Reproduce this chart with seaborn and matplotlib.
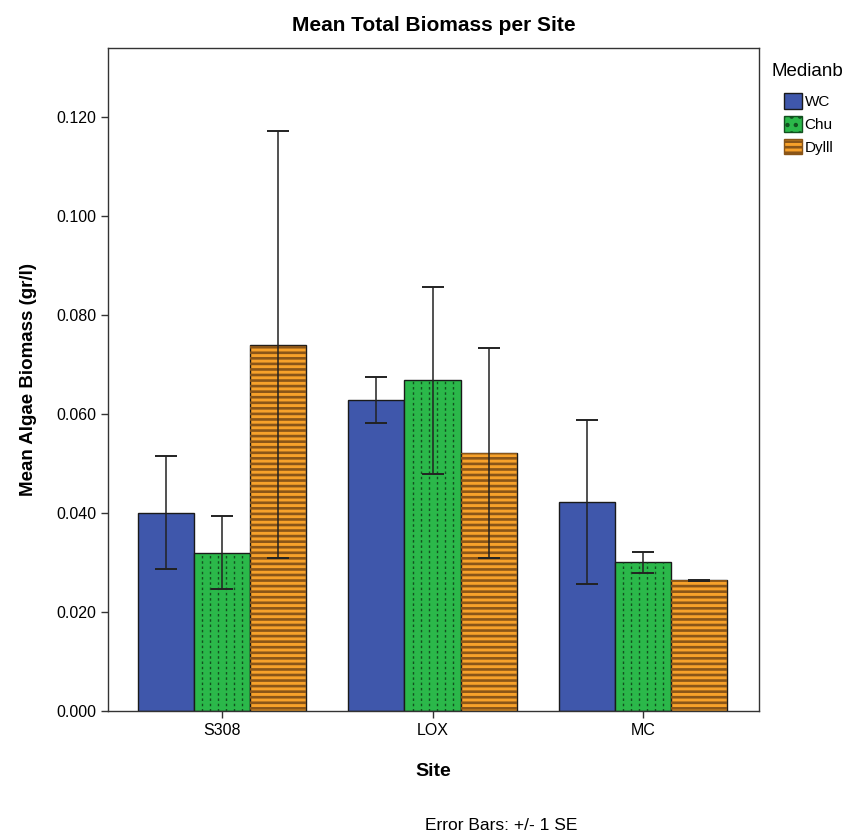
import numpy as np
import pandas as pd
import matplotlib
matplotlib.use("Agg")
import matplotlib.pyplot as plt
from matplotlib.patches import Patch, Rectangle
import seaborn as sns

sites = ["S308", "LOX", "MC"]
media = ["WC", "Chu", "Dylll"]
# mean biomass per site, one list per medium (same order as sites)
mean_wc = [0.0400, 0.0628, 0.0422]
mean_chu = [0.0320, 0.0668, 0.0300]
mean_dyl = [0.0740, 0.0521, 0.0264]
# standard errors
se_wc = [0.0114, 0.0046, 0.0166]
se_chu = [0.0073, 0.0189, 0.0021]
se_dyl = [0.0431, 0.0212, 0.0001]

colors = ["#3f57ab", "#2bb84a", "#f7a12a"]

sns.set_style("ticks")
plt.rcParams["font.family"] = ["Liberation Sans", "DejaVu Sans"]
plt.rcParams["hatch.linewidth"] = 1.9
for k in ["text.color", "axes.labelcolor", "xtick.color", "ytick.color"]:
    plt.rcParams[k] = "black"

df = pd.DataFrame({
    "Site": sites * 3,
    "Medianb": [m for m in media for _ in sites],
    "value": mean_wc + mean_chu + mean_dyl,
    "se": se_wc + se_chu + se_dyl,
})

fig = plt.figure(figsize=(8.53, 8.38), dpi=100)
ax = fig.add_axes([108/853, 1-711/838, (759-108)/853, (711-48)/838])

sns.barplot(data=df, x="Site", y="value", hue="Medianb", order=sites, hue_order=media,
            palette=colors, errorbar=None, width=0.8, edgecolor="#1a1a1a", linewidth=1.0,
            saturation=1, legend=False, ax=ax)

bar_groups = list(ax.containers)
for i, cont in enumerate(bar_groups):
    sub = df[df["Medianb"] == media[i]].set_index("Site").loc[sites]
    xs, ys = [], []
    for bar in cont:
        x0, w, h = bar.get_x(), bar.get_width(), bar.get_height()
        xs.append(x0 + w / 2)
        ys.append(h)
        if media[i] == "Chu":
            # dotted vertical lines inside the green bars
            for k in range(1, 7):
                ax.plot([x0 + k * w / 7] * 2, [0, h], color="#12501f", lw=1.0,
                        linestyle=(0, (1.8, 2.0)), zorder=2.5)
        elif media[i] == "Dylll":
            ax.add_patch(Rectangle((x0, 0), w, h, fill=False, hatch="---",
                                   edgecolor="#8a5518", lw=0, zorder=2.5))
    ax.errorbar(xs, ys, yerr=sub["se"].values, fmt="none", ecolor="#222222",
                elinewidth=1.1, capsize=8, capthick=1.4, zorder=4)

ax.set_xlim(-0.542, 2.551)
ax.set_ylim(0, 0.1339)
ax.set_yticks(np.arange(0, 0.121, 0.02))
ax.yaxis.set_major_formatter(matplotlib.ticker.FormatStrFormatter("%.3f"))
ax.tick_params(axis="both", labelsize=11.5, length=5, width=1, color="#333333")
for s in ax.spines.values():
    s.set_color("#333333")
    s.set_linewidth(1.0)

ax.set_title("Mean Total Biomass per Site", fontsize=15, fontweight="bold", pad=12)
ax.set_ylabel("Mean Algae Biomass (gr/l)", fontsize=13.5, fontweight="bold", labelpad=14)
ax.set_xlabel("Site", fontsize=14, fontweight="bold", labelpad=18)

handles = [
    Patch(facecolor=colors[0], edgecolor="#1a1a1a"),
    Patch(facecolor=colors[1], edgecolor="#12501f", hatch=".."),
    Patch(facecolor=colors[2], edgecolor="#8a5518", hatch="---"),
]
fig.text(772/853, 1-72/838, "Medianb", ha="left", va="center", fontsize=13.5)
leg = fig.legend(handles, media, loc="upper left",
                 bbox_to_anchor=(784/853, 1-93/838), frameon=False, fontsize=11,
                 handlelength=1.2, handleheight=1.2,
                 handletextpad=0.15, labelspacing=0.45, borderaxespad=0,
                 borderpad=0)

fig.text(0.587, 1-825/838, "Error Bars: +/- 1 SE", ha="center", va="center", fontsize=12.5)

fig.savefig("out.png", dpi=100)
